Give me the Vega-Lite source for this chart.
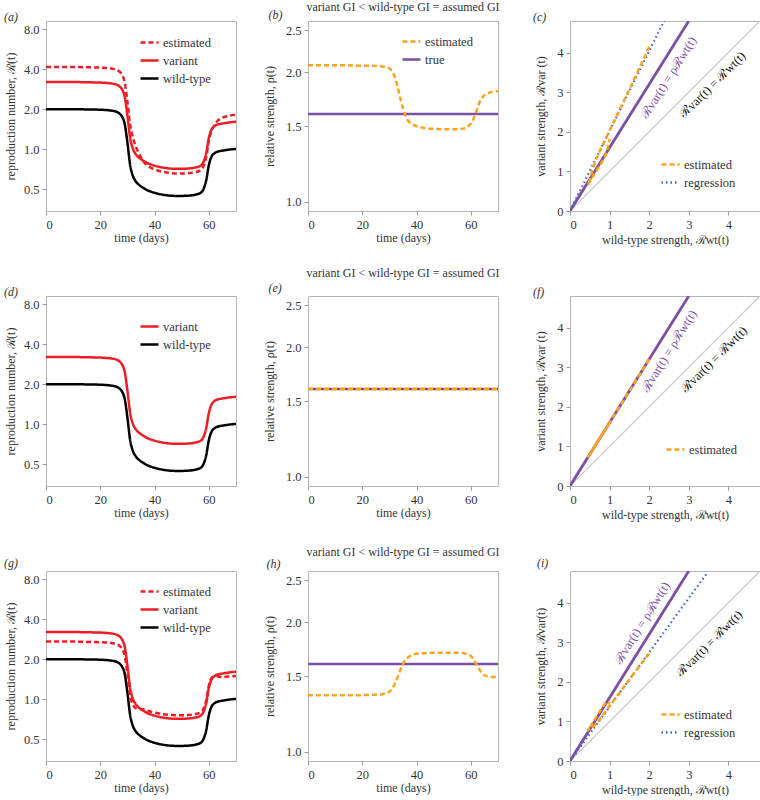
{
  "$schema": "https://vega.github.io/schema/vega-lite/v6.json",
  "padding": {"left": 3, "top": 0, "right": 0, "bottom": 0},
  "columns": 3,
  "spacing": {"row": 85, "column": 72},
  "bounds": "flush",
  "resolve": {"scale": {"color": "independent", "strokeDash": "independent"}},
  "config": {
    "view": {"stroke": "#b5b5b5", "strokeWidth": 1},
    "font": "Liberation Serif",
    "axis": {"labelFont": "Liberation Serif", "labelFontSize": 12.5, "labelColor": "#333", "titleFont": "Liberation Serif", "titleFontSize": 12, "titleFontWeight": "normal", "titleColor": "#333", "tickColor": "#999", "tickSize": 4, "labelPadding": 3, "domain": false, "grid": false},
    "legend": {"labelFont": "Liberation Serif", "labelFontSize": 12.5, "labelColor": "#333", "symbolStrokeWidth": 2.5, "symbolSize": 324, "symbolType": "stroke", "rowPadding": 1, "padding": 0, "labelOffset": 3, "title": null},
    "title": {"font": "Liberation Serif", "fontSize": 12, "fontWeight": "normal", "fontStyle": "italic", "color": "#333"}
  },
  "datasets": {
    "main": [
      {"t": 0, "wt": 2.0, "var": 3.2, "ea": 4.15, "eg": 2.71, "rb": 2.075, "rh": 1.355},
      {"t": 5, "wt": 2.0, "var": 3.2, "ea": 4.15, "eg": 2.71, "rb": 2.075, "rh": 1.355},
      {"t": 10, "wt": 2.0, "var": 3.2, "ea": 4.15, "eg": 2.71, "rb": 2.075, "rh": 1.355},
      {"t": 15, "wt": 1.99, "var": 3.184, "ea": 4.13, "eg": 2.696, "rb": 2.075, "rh": 1.355},
      {"t": 20, "wt": 1.98, "var": 3.168, "ea": 4.1, "eg": 2.683, "rb": 2.07, "rh": 1.355},
      {"t": 24, "wt": 1.95, "var": 3.12, "ea": 4.04, "eg": 2.646, "rb": 2.07, "rh": 1.357},
      {"t": 26, "wt": 1.91, "var": 3.056, "ea": 3.94, "eg": 2.598, "rb": 2.065, "rh": 1.36},
      {"t": 27, "wt": 1.86, "var": 2.976, "ea": 3.84, "eg": 2.53, "rb": 2.063, "rh": 1.36},
      {"t": 28, "wt": 1.76, "var": 2.816, "ea": 3.63, "eg": 2.402, "rb": 2.06, "rh": 1.365},
      {"t": 29, "wt": 1.55, "var": 2.48, "ea": 3.18, "eg": 2.124, "rb": 2.05, "rh": 1.37},
      {"t": 30, "wt": 1.12, "var": 1.792, "ea": 2.28, "eg": 1.546, "rb": 2.04, "rh": 1.38},
      {"t": 31, "wt": 0.76, "var": 1.216, "ea": 1.53, "eg": 1.064, "rb": 2.01, "rh": 1.4},
      {"t": 32, "wt": 0.63, "var": 1.008, "ea": 1.23, "eg": 0.907, "rb": 1.95, "rh": 1.44},
      {"t": 33, "wt": 0.575, "var": 0.92, "ea": 1.06, "eg": 0.857, "rb": 1.85, "rh": 1.49},
      {"t": 34, "wt": 0.545, "var": 0.872, "ea": 0.948, "eg": 0.845, "rb": 1.74, "rh": 1.55},
      {"t": 35, "wt": 0.525, "var": 0.84, "ea": 0.866, "eg": 0.84, "rb": 1.65, "rh": 1.6},
      {"t": 36, "wt": 0.51, "var": 0.816, "ea": 0.806, "eg": 0.836, "rb": 1.58, "rh": 1.64},
      {"t": 37, "wt": 0.495, "var": 0.792, "ea": 0.762, "eg": 0.822, "rb": 1.54, "rh": 1.66},
      {"t": 38, "wt": 0.485, "var": 0.776, "ea": 0.737, "eg": 0.812, "rb": 1.52, "rh": 1.675},
      {"t": 40, "wt": 0.47, "var": 0.752, "ea": 0.705, "eg": 0.794, "rb": 1.5, "rh": 1.69},
      {"t": 43, "wt": 0.455, "var": 0.728, "ea": 0.676, "eg": 0.771, "rb": 1.485, "rh": 1.695},
      {"t": 46, "wt": 0.447, "var": 0.715, "ea": 0.661, "eg": 0.76, "rb": 1.478, "rh": 1.7},
      {"t": 49, "wt": 0.445, "var": 0.712, "ea": 0.656, "eg": 0.757, "rb": 1.475, "rh": 1.7},
      {"t": 52, "wt": 0.447, "var": 0.715, "ea": 0.659, "eg": 0.76, "rb": 1.475, "rh": 1.7},
      {"t": 55, "wt": 0.455, "var": 0.728, "ea": 0.671, "eg": 0.774, "rb": 1.475, "rh": 1.7},
      {"t": 57, "wt": 0.47, "var": 0.752, "ea": 0.696, "eg": 0.798, "rb": 1.48, "rh": 1.698},
      {"t": 58, "wt": 0.5, "var": 0.8, "ea": 0.743, "eg": 0.845, "rb": 1.485, "rh": 1.69},
      {"t": 59, "wt": 0.58, "var": 0.928, "ea": 0.87, "eg": 0.974, "rb": 1.5, "rh": 1.68},
      {"t": 60, "wt": 0.76, "var": 1.216, "ea": 1.155, "eg": 1.269, "rb": 1.52, "rh": 1.67},
      {"t": 61, "wt": 0.88, "var": 1.408, "ea": 1.373, "eg": 1.443, "rb": 1.56, "rh": 1.64},
      {"t": 62, "wt": 0.93, "var": 1.488, "ea": 1.507, "eg": 1.488, "rb": 1.62, "rh": 1.6},
      {"t": 63, "wt": 0.955, "var": 1.528, "ea": 1.614, "eg": 1.49, "rb": 1.69, "rh": 1.56},
      {"t": 64, "wt": 0.967, "var": 1.547, "ea": 1.683, "eg": 1.475, "rb": 1.74, "rh": 1.525},
      {"t": 65, "wt": 0.975, "var": 1.56, "ea": 1.726, "eg": 1.467, "rb": 1.77, "rh": 1.505},
      {"t": 67, "wt": 0.99, "var": 1.584, "ea": 1.777, "eg": 1.48, "rb": 1.795, "rh": 1.495},
      {"t": 70, "wt": 1.005, "var": 1.608, "ea": 1.819, "eg": 1.497, "rb": 1.81, "rh": 1.49}
    ],
    "diag": [{"x": 0, "y": 0}, {"x": 4.8, "y": 4.8}],
    "rho": [{"x": 0, "y": 0}, {"x": 3.0, "y": 4.8}],
    "regc": [{"x": 0, "y": 0}, {"x": 2.4, "y": 4.85}],
    "regi": [{"x": 0, "y": 0}, {"x": 3.48, "y": 4.77}],
    "lab": [{"purple": "ℛvar(t) = ρℛwt(t)", "black": "ℛvar(t) = ℛwt(t)"}]
  },
  "concat": [
    {
      "width": 190, "height": 190,
      "title": {"text": "(a)", "anchor": "start", "frame": "group", "dx": -42, "offset": -7.5, "baseline": "middle"},
      "data": {"name": "main"},
      "encoding": {
        "x": {"field": "t", "type": "quantitative", "scale": {"domain": [0, 70], "nice": false, "zero": false}, "axis": {"orient": "bottom", "values": [0, 20, 40, 60], "title": "time (days)", "titlePadding": 2}}
      },
      "layer": [
        {"mark": {"type": "line", "interpolate": "monotone", "strokeWidth": 2.5, "clip": true},
         "encoding": {
           "y": {"field": "wt", "type": "quantitative", "scale": {"type": "log", "domain": [0.343, 9.2], "nice": false}, "axis": {"values": [0.5, 1, 2, 4, 8], "format": ".1f", "title": "reproduction number, ℛ(t)", "titlePadding": 6}},
           "color": {"datum": "wild-type", "scale": {"domain": ["estimated", "variant", "wild-type"], "range": ["#ee1d23", "#ee1d23", "#000000"]}, "legend": {"orient": "none", "legendX": 93, "legendY": 11}},
           "strokeDash": {"datum": "wild-type", "scale": {"domain": ["estimated", "variant", "wild-type"], "range": [[5, 3], [1, 0], [1, 0]]}, "legend": {"orient": "none", "legendX": 93, "legendY": 11}}
         }},
        {"mark": {"type": "line", "interpolate": "monotone", "strokeWidth": 2.5, "clip": true},
         "encoding": {
           "y": {"field": "var", "type": "quantitative", "scale": {"type": "log", "domain": [0.343, 9.2], "nice": false}, "axis": {"values": [0.5, 1, 2, 4, 8], "format": ".1f", "title": "reproduction number, ℛ(t)", "titlePadding": 6}},
           "color": {"datum": "variant", "scale": {"domain": ["estimated", "variant", "wild-type"], "range": ["#ee1d23", "#ee1d23", "#000000"]}, "legend": {"orient": "none", "legendX": 93, "legendY": 11}},
           "strokeDash": {"datum": "variant", "scale": {"domain": ["estimated", "variant", "wild-type"], "range": [[5, 3], [1, 0], [1, 0]]}, "legend": {"orient": "none", "legendX": 93, "legendY": 11}}
         }},
        {"mark": {"type": "line", "interpolate": "monotone", "strokeWidth": 2.5, "clip": true},
         "encoding": {
           "y": {"field": "ea", "type": "quantitative", "scale": {"type": "log", "domain": [0.343, 9.2], "nice": false}, "axis": {"values": [0.5, 1, 2, 4, 8], "format": ".1f", "title": "reproduction number, ℛ(t)", "titlePadding": 6}},
           "color": {"datum": "estimated", "scale": {"domain": ["estimated", "variant", "wild-type"], "range": ["#ee1d23", "#ee1d23", "#000000"]}, "legend": {"orient": "none", "legendX": 93, "legendY": 11}},
           "strokeDash": {"datum": "estimated", "scale": {"domain": ["estimated", "variant", "wild-type"], "range": [[5, 3], [1, 0], [1, 0]]}, "legend": {"orient": "none", "legendX": 93, "legendY": 11}}
         }}
      ]
    },
    {
      "width": 190, "height": 190,
      "title": {"text": "variant GI < wild-type GI = assumed GI", "anchor": "middle", "frame": "group", "fontStyle": "normal", "offset": -10, "baseline": "middle"},
      "data": {"name": "main"},
      "resolve": {"axis": {"x": "independent"}},
      "layer": [
        {"mark": {"type": "line", "strokeWidth": 2.5, "clip": true},
         "encoding": {
           "x": {"field": "t", "type": "quantitative", "scale": {"domain": [0, 70], "nice": false, "zero": false}, "axis": {"orient": "top", "labels": false, "ticks": false, "domain": false, "title": "(b)", "titleFontStyle": "italic", "titleX": -40, "titleY": -6.5, "titleAlign": "left", "titleBaseline": "middle"}},
           "y": {"datum": 1.6, "type": "quantitative", "scale": {"type": "log", "domain": [0.953, 2.63], "nice": false}, "axis": {"values": [1, 1.5, 2, 2.5], "format": ".1f", "title": "relative strength, ρ(t)", "titlePadding": 9}},
           "color": {"datum": "true", "scale": {"domain": ["estimated", "true"], "range": ["#fca31c", "#7b4fa3"]}, "legend": {"orient": "none", "legendX": 93, "legendY": 10}},
           "strokeDash": {"datum": "true", "scale": {"domain": ["estimated", "true"], "range": [[5, 3], [1, 0]]}, "legend": {"orient": "none", "legendX": 93, "legendY": 10}}
         }},
        {"mark": {"type": "line", "interpolate": "monotone", "strokeWidth": 2.5, "clip": true},
         "encoding": {
           "x": {"field": "t", "type": "quantitative", "scale": {"domain": [0, 70], "nice": false, "zero": false}, "axis": {"orient": "bottom", "values": [0, 20, 40, 60], "title": "time (days)", "titlePadding": 2}},
           "y": {"field": "rb", "type": "quantitative", "scale": {"type": "log", "domain": [0.953, 2.63], "nice": false}, "axis": {"values": [1, 1.5, 2, 2.5], "format": ".1f", "title": "relative strength, ρ(t)", "titlePadding": 9}},
           "color": {"datum": "estimated", "scale": {"domain": ["estimated", "true"], "range": ["#fca31c", "#7b4fa3"]}, "legend": {"orient": "none", "legendX": 93, "legendY": 10}},
           "strokeDash": {"datum": "estimated", "scale": {"domain": ["estimated", "true"], "range": [[5, 3], [1, 0]]}, "legend": {"orient": "none", "legendX": 93, "legendY": 10}}
         }}
      ]
    },
    {
      "width": 190, "height": 190,
      "title": {"text": "(c)", "anchor": "start", "frame": "group", "dx": -37, "offset": -7.5, "baseline": "middle"},
      "encoding": {
        "x": {"type": "quantitative", "scale": {"domain": [0, 4.8], "nice": false}, "axis": {"orient": "bottom", "values": [0, 1, 2, 3, 4], "format": "d", "title": "wild-type strength,  ℛwt(t)", "titlePadding": 4}},
        "y": {"type": "quantitative", "scale": {"domain": [0, 4.8], "nice": false}, "axis": {"values": [0, 1, 2, 3, 4], "format": "d", "title": "variant strength,  ℛvar (t)", "titlePadding": 9}}
      },
      "layer": [
        {"data": {"name": "diag"}, "mark": {"type": "line", "color": "#c4c4c4", "strokeWidth": 1.2, "clip": true},
         "encoding": {"x": {"field": "x"}, "y": {"field": "y"}}},
        {"data": {"name": "rho"}, "mark": {"type": "line", "color": "#7b4fa3", "strokeWidth": 2.8, "clip": true},
         "encoding": {"x": {"field": "x"}, "y": {"field": "y"}}},
        {"data": {"name": "regc"}, "mark": {"type": "line", "strokeWidth": 2.2, "clip": true},
         "encoding": {
           "x": {"field": "x"}, "y": {"field": "y"},
           "color": {"datum": "regression", "scale": {"domain": ["estimated", "regression"], "range": ["#fca31c", "#4462c4"]}, "legend": {"orient": "none", "legendX": 90, "legendY": 133}},
           "strokeDash": {"datum": "regression", "scale": {"domain": ["estimated", "regression"], "range": [[5, 3], [1.5, 3]]}, "legend": {"orient": "none", "legendX": 90, "legendY": 133}}
         }},
        {"data": {"name": "main"}, "mark": {"type": "line", "strokeWidth": 2.5, "clip": true},
         "encoding": {
           "x": {"field": "wt"}, "y": {"field": "ea"},
           "order": {"field": "t"},
           "color": {"datum": "estimated", "scale": {"domain": ["estimated", "regression"], "range": ["#fca31c", "#4462c4"]}, "legend": {"orient": "none", "legendX": 90, "legendY": 133}},
           "strokeDash": {"datum": "estimated", "scale": {"domain": ["estimated", "regression"], "range": [[5, 3], [1.5, 3]]}, "legend": {"orient": "none", "legendX": 90, "legendY": 133}}
         }},
        {"data": {"name": "lab"}, "mark": {"type": "text", "angle": 302, "color": "#7b4fa3", "font": "Liberation Serif", "fontSize": 12.5, "align": "center", "baseline": "middle"},
         "encoding": {"x": {"datum": 2.49}, "y": {"datum": 3.37}, "text": {"field": "purple"}}},
        {"data": {"name": "lab"}, "mark": {"type": "text", "angle": 315, "color": "#111", "font": "Liberation Serif", "fontSize": 12.5, "align": "center", "baseline": "middle"},
         "encoding": {"x": {"datum": 3.6}, "y": {"datum": 3.19}, "text": {"field": "black"}}}
      ]
    },
    {
      "width": 190, "height": 190,
      "title": {"text": "(d)", "anchor": "start", "frame": "group", "dx": -42, "offset": -8, "baseline": "middle"},
      "data": {"name": "main"},
      "encoding": {
        "x": {"field": "t", "type": "quantitative", "scale": {"domain": [0, 70], "nice": false, "zero": false}, "axis": {"orient": "bottom", "values": [0, 20, 40, 60], "title": "time (days)", "titlePadding": 2}}
      },
      "layer": [
        {"mark": {"type": "line", "interpolate": "monotone", "strokeWidth": 2.5, "clip": true},
         "encoding": {
           "y": {"field": "wt", "type": "quantitative", "scale": {"type": "log", "domain": [0.343, 9.2], "nice": false}, "axis": {"values": [0.5, 1, 2, 4, 8], "format": ".1f", "title": "reproduction number, ℛ(t)", "titlePadding": 6}},
           "color": {"datum": "wild-type", "scale": {"domain": ["variant", "wild-type"], "range": ["#ee1d23", "#000000"]}, "legend": {"orient": "none", "legendX": 93, "legendY": 20}},
           "strokeDash": {"datum": "wild-type", "scale": {"domain": ["variant", "wild-type"], "range": [[1, 0], [1, 0]]}, "legend": {"orient": "none", "legendX": 93, "legendY": 20}}
         }},
        {"mark": {"type": "line", "interpolate": "monotone", "strokeWidth": 2.5, "clip": true},
         "encoding": {
           "y": {"field": "var", "type": "quantitative", "scale": {"type": "log", "domain": [0.343, 9.2], "nice": false}, "axis": {"values": [0.5, 1, 2, 4, 8], "format": ".1f", "title": "reproduction number, ℛ(t)", "titlePadding": 6}},
           "color": {"datum": "variant", "scale": {"domain": ["variant", "wild-type"], "range": ["#ee1d23", "#000000"]}, "legend": {"orient": "none", "legendX": 93, "legendY": 20}},
           "strokeDash": {"datum": "variant", "scale": {"domain": ["variant", "wild-type"], "range": [[1, 0], [1, 0]]}, "legend": {"orient": "none", "legendX": 93, "legendY": 20}}
         }}
      ]
    },
    {
      "width": 190, "height": 190,
      "title": {"text": "variant GI < wild-type GI = assumed GI", "anchor": "middle", "frame": "group", "fontStyle": "normal", "offset": -3.5, "baseline": "middle"},
      "data": {"name": "main"},
      "resolve": {"axis": {"x": "independent"}},
      "layer": [
        {"mark": {"type": "line", "strokeWidth": 2.5, "clip": true, "color": "#7b4fa3"},
         "encoding": {
           "x": {"field": "t", "type": "quantitative", "scale": {"domain": [0, 70], "nice": false, "zero": false}, "axis": {"orient": "top", "labels": false, "ticks": false, "domain": false, "title": "(e)", "titleFontStyle": "italic", "titleX": -40, "titleY": -9, "titleAlign": "left", "titleBaseline": "middle"}},
           "y": {"datum": 1.6, "type": "quantitative", "scale": {"type": "log", "domain": [0.953, 2.63], "nice": false}, "axis": {"values": [1, 1.5, 2, 2.5], "format": ".1f", "title": "relative strength, ρ(t)", "titlePadding": 9}}
         }},
        {"mark": {"type": "line", "strokeWidth": 2.5, "clip": true, "color": "#fca31c", "strokeDash": [5, 3]},
         "encoding": {
           "x": {"field": "t", "type": "quantitative", "scale": {"domain": [0, 70], "nice": false, "zero": false}, "axis": {"orient": "bottom", "values": [0, 20, 40, 60], "title": "time (days)", "titlePadding": 2}},
           "y": {"datum": 1.6, "type": "quantitative", "scale": {"type": "log", "domain": [0.953, 2.63], "nice": false}, "axis": {"values": [1, 1.5, 2, 2.5], "format": ".1f", "title": "relative strength, ρ(t)", "titlePadding": 9}}
         }}
      ]
    },
    {
      "width": 190, "height": 190,
      "title": {"text": "(f)", "anchor": "start", "frame": "group", "dx": -37, "offset": -8, "baseline": "middle"},
      "encoding": {
        "x": {"type": "quantitative", "scale": {"domain": [0, 4.8], "nice": false}, "axis": {"orient": "bottom", "values": [0, 1, 2, 3, 4], "format": "d", "title": "wild-type strength,  ℛwt(t)", "titlePadding": 4}},
        "y": {"type": "quantitative", "scale": {"domain": [0, 4.8], "nice": false}, "axis": {"values": [0, 1, 2, 3, 4], "format": "d", "title": "variant strength,  ℛvar (t)", "titlePadding": 9}}
      },
      "layer": [
        {"data": {"name": "diag"}, "mark": {"type": "line", "color": "#c4c4c4", "strokeWidth": 1.2, "clip": true},
         "encoding": {"x": {"field": "x"}, "y": {"field": "y"}}},
        {"data": {"name": "rho"}, "mark": {"type": "line", "color": "#7b4fa3", "strokeWidth": 2.8, "clip": true},
         "encoding": {"x": {"field": "x"}, "y": {"field": "y"}}},
        {"data": {"name": "main"}, "mark": {"type": "line", "strokeWidth": 2.5, "clip": true},
         "encoding": {
           "x": {"field": "wt"}, "y": {"field": "var"},
           "order": {"field": "t"},
           "color": {"datum": "estimated", "scale": {"domain": ["estimated"], "range": ["#fca31c"]}, "legend": {"orient": "none", "legendX": 95, "legendY": 143}},
           "strokeDash": {"datum": "estimated", "scale": {"domain": ["estimated"], "range": [[5, 3]]}, "legend": {"orient": "none", "legendX": 95, "legendY": 143}}
         }},
        {"data": {"name": "lab"}, "mark": {"type": "text", "angle": 302, "color": "#7b4fa3", "font": "Liberation Serif", "fontSize": 12.5, "align": "center", "baseline": "middle"},
         "encoding": {"x": {"datum": 2.5}, "y": {"datum": 3.41}, "text": {"field": "purple"}}},
        {"data": {"name": "lab"}, "mark": {"type": "text", "angle": 315, "color": "#111", "font": "Liberation Serif", "fontSize": 12.5, "align": "center", "baseline": "middle"},
         "encoding": {"x": {"datum": 3.64}, "y": {"datum": 3.2}, "text": {"field": "black"}}}
      ]
    },
    {
      "width": 190, "height": 190,
      "title": {"text": "(g)", "anchor": "start", "frame": "group", "dx": -42, "offset": -4, "baseline": "middle"},
      "data": {"name": "main"},
      "encoding": {
        "x": {"field": "t", "type": "quantitative", "scale": {"domain": [0, 70], "nice": false, "zero": false}, "axis": {"orient": "bottom", "values": [0, 20, 40, 60], "title": "time (days)", "titlePadding": 2}}
      },
      "layer": [
        {"mark": {"type": "line", "interpolate": "monotone", "strokeWidth": 2.5, "clip": true},
         "encoding": {
           "y": {"field": "wt", "type": "quantitative", "scale": {"type": "log", "domain": [0.343, 9.2], "nice": false}, "axis": {"values": [0.5, 1, 2, 4, 8], "format": ".1f", "title": "reproduction number, ℛ(t)", "titlePadding": 6}},
           "color": {"datum": "wild-type", "scale": {"domain": ["estimated", "variant", "wild-type"], "range": ["#ee1d23", "#ee1d23", "#000000"]}, "legend": {"orient": "none", "legendX": 93, "legendY": 10}},
           "strokeDash": {"datum": "wild-type", "scale": {"domain": ["estimated", "variant", "wild-type"], "range": [[5, 3], [1, 0], [1, 0]]}, "legend": {"orient": "none", "legendX": 93, "legendY": 10}}
         }},
        {"mark": {"type": "line", "interpolate": "monotone", "strokeWidth": 2.5, "clip": true},
         "encoding": {
           "y": {"field": "var", "type": "quantitative", "scale": {"type": "log", "domain": [0.343, 9.2], "nice": false}, "axis": {"values": [0.5, 1, 2, 4, 8], "format": ".1f", "title": "reproduction number, ℛ(t)", "titlePadding": 6}},
           "color": {"datum": "variant", "scale": {"domain": ["estimated", "variant", "wild-type"], "range": ["#ee1d23", "#ee1d23", "#000000"]}, "legend": {"orient": "none", "legendX": 93, "legendY": 10}},
           "strokeDash": {"datum": "variant", "scale": {"domain": ["estimated", "variant", "wild-type"], "range": [[5, 3], [1, 0], [1, 0]]}, "legend": {"orient": "none", "legendX": 93, "legendY": 10}}
         }},
        {"mark": {"type": "line", "interpolate": "monotone", "strokeWidth": 2.5, "clip": true},
         "encoding": {
           "y": {"field": "eg", "type": "quantitative", "scale": {"type": "log", "domain": [0.343, 9.2], "nice": false}, "axis": {"values": [0.5, 1, 2, 4, 8], "format": ".1f", "title": "reproduction number, ℛ(t)", "titlePadding": 6}},
           "color": {"datum": "estimated", "scale": {"domain": ["estimated", "variant", "wild-type"], "range": ["#ee1d23", "#ee1d23", "#000000"]}, "legend": {"orient": "none", "legendX": 93, "legendY": 10}},
           "strokeDash": {"datum": "estimated", "scale": {"domain": ["estimated", "variant", "wild-type"], "range": [[5, 3], [1, 0], [1, 0]]}, "legend": {"orient": "none", "legendX": 93, "legendY": 10}}
         }}
      ]
    },
    {
      "width": 190, "height": 190,
      "title": {"text": "variant GI < wild-type GI = assumed GI", "anchor": "middle", "frame": "group", "fontStyle": "normal", "offset": -7, "baseline": "middle"},
      "data": {"name": "main"},
      "resolve": {"axis": {"x": "independent"}},
      "layer": [
        {"mark": {"type": "line", "strokeWidth": 2.5, "clip": true, "color": "#7b4fa3"},
         "encoding": {
           "x": {"field": "t", "type": "quantitative", "scale": {"domain": [0, 70], "nice": false, "zero": false}, "axis": {"orient": "top", "labels": false, "ticks": false, "domain": false, "title": "(h)", "titleFontStyle": "italic", "titleX": -42, "titleY": -8, "titleAlign": "left", "titleBaseline": "middle"}},
           "y": {"datum": 1.6, "type": "quantitative", "scale": {"type": "log", "domain": [0.953, 2.63], "nice": false}, "axis": {"values": [1, 1.5, 2, 2.5], "format": ".1f", "title": "relative strength, ρ(t)", "titlePadding": 9}}
         }},
        {"mark": {"type": "line", "interpolate": "monotone", "strokeWidth": 2.5, "clip": true, "color": "#fca31c", "strokeDash": [5, 3]},
         "encoding": {
           "x": {"field": "t", "type": "quantitative", "scale": {"domain": [0, 70], "nice": false, "zero": false}, "axis": {"orient": "bottom", "values": [0, 20, 40, 60], "title": "time (days)", "titlePadding": 2}},
           "y": {"field": "rh", "type": "quantitative", "scale": {"type": "log", "domain": [0.953, 2.63], "nice": false}, "axis": {"values": [1, 1.5, 2, 2.5], "format": ".1f", "title": "relative strength, ρ(t)", "titlePadding": 9}}
         }}
      ]
    },
    {
      "width": 190, "height": 190,
      "title": {"text": "(i)", "anchor": "start", "frame": "group", "dx": -33, "offset": -4, "baseline": "middle"},
      "encoding": {
        "x": {"type": "quantitative", "scale": {"domain": [0, 4.8], "nice": false}, "axis": {"orient": "bottom", "values": [0, 1, 2, 3, 4], "format": "d", "title": "wild-type strength,  ℛwt(t)", "titlePadding": 4}},
        "y": {"type": "quantitative", "scale": {"domain": [0, 4.8], "nice": false}, "axis": {"values": [0, 1, 2, 3, 4], "format": "d", "title": "variant strength,  ℛvar(t)", "titlePadding": 9}}
      },
      "layer": [
        {"data": {"name": "diag"}, "mark": {"type": "line", "color": "#c4c4c4", "strokeWidth": 1.2, "clip": true},
         "encoding": {"x": {"field": "x"}, "y": {"field": "y"}}},
        {"data": {"name": "rho"}, "mark": {"type": "line", "color": "#7b4fa3", "strokeWidth": 2.8, "clip": true},
         "encoding": {"x": {"field": "x"}, "y": {"field": "y"}}},
        {"data": {"name": "regi"}, "mark": {"type": "line", "strokeWidth": 2.2, "clip": true},
         "encoding": {
           "x": {"field": "x"}, "y": {"field": "y"},
           "color": {"datum": "regression", "scale": {"domain": ["estimated", "regression"], "range": ["#fca31c", "#4462c4"]}, "legend": {"orient": "none", "legendX": 90, "legendY": 133}},
           "strokeDash": {"datum": "regression", "scale": {"domain": ["estimated", "regression"], "range": [[5, 3], [1.5, 3]]}, "legend": {"orient": "none", "legendX": 90, "legendY": 133}}
         }},
        {"data": {"name": "main"}, "mark": {"type": "line", "strokeWidth": 2.5, "clip": true},
         "encoding": {
           "x": {"field": "wt"}, "y": {"field": "eg"},
           "order": {"field": "t"},
           "color": {"datum": "estimated", "scale": {"domain": ["estimated", "regression"], "range": ["#fca31c", "#4462c4"]}, "legend": {"orient": "none", "legendX": 90, "legendY": 133}},
           "strokeDash": {"datum": "estimated", "scale": {"domain": ["estimated", "regression"], "range": [[5, 3], [1.5, 3]]}, "legend": {"orient": "none", "legendX": 90, "legendY": 133}}
         }},
        {"data": {"name": "lab"}, "mark": {"type": "text", "angle": 302, "color": "#7b4fa3", "font": "Liberation Serif", "fontSize": 12.5, "align": "center", "baseline": "middle"},
         "encoding": {"x": {"datum": 1.82}, "y": {"datum": 3.49}, "text": {"field": "purple"}}},
        {"data": {"name": "lab"}, "mark": {"type": "text", "angle": 315, "color": "#111", "font": "Liberation Serif", "fontSize": 12.5, "align": "center", "baseline": "middle"},
         "encoding": {"x": {"datum": 3.52}, "y": {"datum": 2.97}, "text": {"field": "black"}}}
      ]
    }
  ]
}
